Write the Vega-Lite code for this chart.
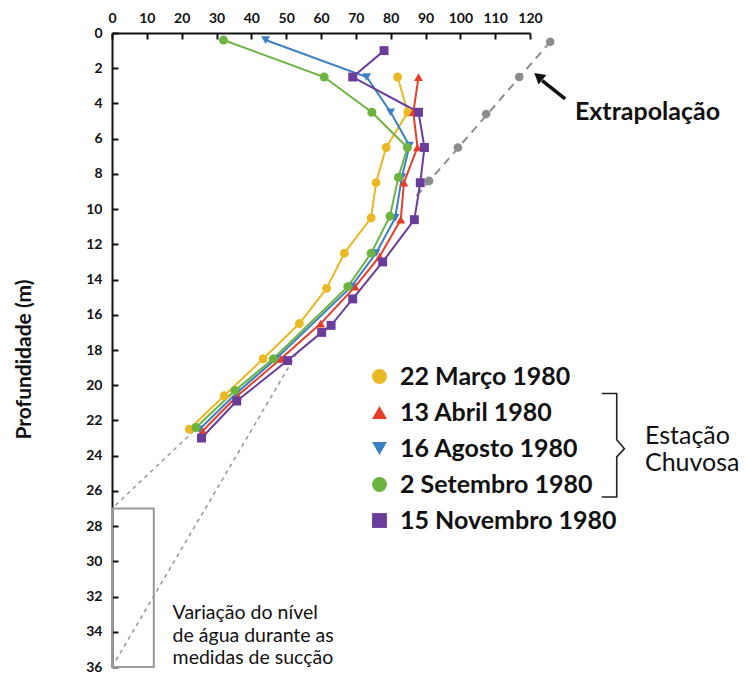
{
  "$schema": "https://vega.github.io/schema/vega-lite/v6.json",
  "width": 418,
  "height": 634,
  "autosize": {"type": "none"},
  "padding": {"left": 112, "top": 33, "right": 215, "bottom": 6},
  "background": "white",
  "config": {
    "view": {"stroke": null},
    "font": "Lato",
    "axis": {
      "grid": false,
      "domainColor": "#111111",
      "domainWidth": 2,
      "tickColor": "#111111",
      "tickWidth": 2,
      "tickSize": -6,
      "labelFont": "Lato",
      "labelFontWeight": "bold",
      "labelFontSize": 14,
      "labelColor": "#111111",
      "labelFlush": false,
      "labelOverlap": false
    },
    "legend": {
      "labelLimit": 0
    }
  },
  "resolve": {"legend": {"color": "independent", "shape": "independent"}},
  "datasets": {
    "profiles": [
      {"serie": "22 Março 1980", "x": 82.0, "d": 2.5},
      {"serie": "22 Março 1980", "x": 84.9, "d": 4.5},
      {"serie": "22 Março 1980", "x": 78.7, "d": 6.5},
      {"serie": "22 Março 1980", "x": 75.8, "d": 8.5},
      {"serie": "22 Março 1980", "x": 74.4, "d": 10.5},
      {"serie": "22 Março 1980", "x": 66.7, "d": 12.5},
      {"serie": "22 Março 1980", "x": 61.6, "d": 14.5},
      {"serie": "22 Março 1980", "x": 53.8, "d": 16.5},
      {"serie": "22 Março 1980", "x": 43.4, "d": 18.5},
      {"serie": "22 Março 1980", "x": 32.2, "d": 20.6},
      {"serie": "22 Março 1980", "x": 22.2, "d": 22.5},
      {"serie": "13 Abril 1980", "x": 88.0, "d": 2.5},
      {"serie": "13 Abril 1980", "x": 86.5, "d": 4.5},
      {"serie": "13 Abril 1980", "x": 87.7, "d": 6.5},
      {"serie": "13 Abril 1980", "x": 83.8, "d": 8.5},
      {"serie": "13 Abril 1980", "x": 82.9, "d": 10.6},
      {"serie": "13 Abril 1980", "x": 76.8, "d": 12.7},
      {"serie": "13 Abril 1980", "x": 69.8, "d": 14.4},
      {"serie": "13 Abril 1980", "x": 59.9, "d": 16.5},
      {"serie": "13 Abril 1980", "x": 48.5, "d": 18.5},
      {"serie": "13 Abril 1980", "x": 36.0, "d": 20.6},
      {"serie": "13 Abril 1980", "x": 26.0, "d": 22.6},
      {"serie": "16 Agosto 1980", "x": 44.1, "d": 0.4},
      {"serie": "16 Agosto 1980", "x": 73.1, "d": 2.5},
      {"serie": "16 Agosto 1980", "x": 80.0, "d": 4.5},
      {"serie": "16 Agosto 1980", "x": 85.4, "d": 6.4},
      {"serie": "16 Agosto 1980", "x": 83.2, "d": 8.2},
      {"serie": "16 Agosto 1980", "x": 81.3, "d": 10.5},
      {"serie": "16 Agosto 1980", "x": 75.8, "d": 12.5},
      {"serie": "16 Agosto 1980", "x": 68.7, "d": 14.4},
      {"serie": "16 Agosto 1980", "x": 47.1, "d": 18.5},
      {"serie": "16 Agosto 1980", "x": 36.0, "d": 20.4},
      {"serie": "16 Agosto 1980", "x": 25.1, "d": 22.5},
      {"serie": "2 Setembro 1980", "x": 32.0, "d": 0.4},
      {"serie": "2 Setembro 1980", "x": 60.9, "d": 2.5},
      {"serie": "2 Setembro 1980", "x": 74.6, "d": 4.5},
      {"serie": "2 Setembro 1980", "x": 84.8, "d": 6.5},
      {"serie": "2 Setembro 1980", "x": 82.2, "d": 8.2},
      {"serie": "2 Setembro 1980", "x": 79.8, "d": 10.4},
      {"serie": "2 Setembro 1980", "x": 74.4, "d": 12.5},
      {"serie": "2 Setembro 1980", "x": 67.7, "d": 14.4},
      {"serie": "2 Setembro 1980", "x": 46.3, "d": 18.5},
      {"serie": "2 Setembro 1980", "x": 35.3, "d": 20.3},
      {"serie": "2 Setembro 1980", "x": 24.1, "d": 22.4},
      {"serie": "15 Novembro 1980", "x": 78.1, "d": 1.0},
      {"serie": "15 Novembro 1980", "x": 69.1, "d": 2.5},
      {"serie": "15 Novembro 1980", "x": 88.0, "d": 4.5},
      {"serie": "15 Novembro 1980", "x": 89.7, "d": 6.5},
      {"serie": "15 Novembro 1980", "x": 88.5, "d": 8.5},
      {"serie": "15 Novembro 1980", "x": 86.8, "d": 10.6},
      {"serie": "15 Novembro 1980", "x": 77.7, "d": 13.0},
      {"serie": "15 Novembro 1980", "x": 69.1, "d": 15.1},
      {"serie": "15 Novembro 1980", "x": 62.9, "d": 16.6},
      {"serie": "15 Novembro 1980", "x": 60.2, "d": 17.0},
      {"serie": "15 Novembro 1980", "x": 50.4, "d": 18.6},
      {"serie": "15 Novembro 1980", "x": 35.8, "d": 20.9},
      {"serie": "15 Novembro 1980", "x": 25.7, "d": 23.0}
    ],
    "extrapPoints": [
      {"x": 125.8, "d": 0.5},
      {"x": 116.9, "d": 2.5},
      {"x": 107.4, "d": 4.6},
      {"x": 99.3, "d": 6.5},
      {"x": 91.0, "d": 8.4}
    ],
    "extrapLine": [
      {"x": 125.8, "d": 0.5},
      {"x": 86.3, "d": 9.5}
    ],
    "guides": [
      {"g": "a", "x": 23.5, "d": 22.6},
      {"g": "a", "x": 0.0, "d": 27.0},
      {"g": "b", "x": 53.0, "d": 18.2},
      {"g": "b", "x": 0.0, "d": 36.0}
    ],
    "box": [
      {"x": 0, "x2": 12, "d": 27, "d2": 36}
    ],
    "bracket": [
      {"o": 1, "x": 140.6, "d": 20.47},
      {"o": 2, "x": 144.9, "d": 20.47},
      {"o": 3, "x": 144.9, "d": 23.1},
      {"o": 4, "x": 147.1, "d": 23.6},
      {"o": 5, "x": 144.9, "d": 24.07},
      {"o": 6, "x": 144.9, "d": 26.35},
      {"o": 7, "x": 140.6, "d": 26.35}
    ],
    "arrowShaft": [
      {"o": 1, "x": 130.1, "d": 3.74},
      {"o": 2, "x": 123.5, "d": 2.7}
    ],
    "arrowHead": [
      {"x": 122.4, "d": 2.46}
    ],
    "titleBold": [
      {"x": 132.9, "d": 4.47, "label": "Extrapolação"}
    ],
    "season": [
      {"x": 153.0, "d": 22.88, "label": "Estação"},
      {"x": 153.0, "d": 24.43, "label": "Chuvosa"}
    ],
    "note": [
      {"x": 17.4, "d": 32.95, "label": "Variação do nível"},
      {"x": 17.4, "d": 34.24, "label": "de água durante as"},
      {"x": 17.4, "d": 35.5, "label": "medidas de sucção"}
    ]
  },
  "encoding": {
    "x": {
      "field": "x",
      "type": "quantitative",
      "scale": {"domain": [0, 120], "nice": false, "zero": false},
      "axis": {
        "orient": "top",
        "title": null,
        "values": [0, 10, 20, 30, 40, 50, 60, 70, 80, 90, 100, 110, 120],
        "labelPadding": 14
      }
    },
    "y": {
      "field": "d",
      "type": "quantitative",
      "scale": {"domain": [0, 36], "reverse": true, "nice": false, "zero": false},
      "axis": {
        "orient": "left",
        "values": [0, 2, 4, 6, 8, 10, 12, 14, 16, 18, 20, 22, 24, 26, 28, 30, 32, 34, 36],
        "labelPadding": 16,
        "title": "Profundidade (m)",
        "titleFont": "Lato",
        "titleFontSize": 21,
        "titleFontWeight": "bold",
        "titleColor": "#111111",
        "titleX": -78,
        "titleY": 326
      }
    }
  },
  "layer": [
    {
      "data": {"name": "box"},
      "mark": {"type": "rect", "fill": null, "stroke": "#9a9a9a", "strokeWidth": 2},
      "encoding": {
        "x2": {"field": "x2"},
        "y2": {"field": "d2"}
      }
    },
    {
      "data": {"name": "guides"},
      "mark": {"type": "line", "color": "#9a9a9a", "strokeWidth": 1.6, "strokeDash": [4, 4]},
      "encoding": {
        "detail": {"field": "g", "type": "nominal"},
        "order": {"field": "d", "type": "quantitative"}
      }
    },
    {
      "data": {"name": "extrapLine"},
      "mark": {"type": "line", "color": "#8c8c8c", "strokeWidth": 2, "strokeDash": [8, 6]},
      "encoding": {
        "order": {"field": "d", "type": "quantitative"}
      }
    },
    {
      "data": {"name": "extrapPoints"},
      "mark": {"type": "point", "shape": "circle", "filled": true, "color": "#8c8c8c", "opacity": 1, "size": 75}
    },
    {
      "data": {"name": "profiles"},
      "mark": {"type": "line", "strokeWidth": 2},
      "encoding": {
        "color": {
          "field": "serie",
          "type": "nominal",
          "scale": {
            "domain": ["22 Março 1980", "13 Abril 1980", "16 Agosto 1980", "2 Setembro 1980", "15 Novembro 1980"],
            "range": ["#e9b824", "#e53d2a", "#3b7fc4", "#6cb33f", "#6a3d9a"]
          },
          "legend": null
        },
        "order": {"field": "d", "type": "quantitative"}
      }
    },
    {
      "data": {"name": "profiles"},
      "mark": {"type": "point", "filled": true, "opacity": 1, "size": 80},
      "encoding": {
        "color": {
          "field": "serie",
          "type": "nominal",
          "scale": {
            "domain": ["22 Março 1980", "13 Abril 1980", "16 Agosto 1980", "2 Setembro 1980", "15 Novembro 1980"],
            "range": ["#e9b824", "#e53d2a", "#3b7fc4", "#6cb33f", "#6a3d9a"]
          },
          "legend": {
            "orient": "none",
            "legendX": 255,
            "legendY": 331,
            "title": null,
            "padding": 0,
            "labelFont": "Lato",
            "labelFontWeight": "bold",
            "labelFontSize": 25,
            "labelColor": "#111111",
            "labelOffset": 8,
            "labelLimit": 0,
            "symbolSize": 220,
            "symbolStrokeWidth": 0,
            "rowPadding": 10
          }
        },
        "shape": {
          "field": "serie",
          "type": "nominal",
          "scale": {
            "domain": ["22 Março 1980", "13 Abril 1980", "16 Agosto 1980", "2 Setembro 1980", "15 Novembro 1980"],
            "range": ["circle", "triangle-up", "triangle-down", "circle", "square"]
          },
          "legend": {
            "orient": "none",
            "legendX": 255,
            "legendY": 331,
            "title": null,
            "padding": 0,
            "labelFont": "Lato",
            "labelFontWeight": "bold",
            "labelFontSize": 25,
            "labelColor": "#111111",
            "labelOffset": 8,
            "labelLimit": 0,
            "symbolSize": 220,
            "symbolStrokeWidth": 0,
            "rowPadding": 10
          }
        }
      }
    },
    {
      "data": {"name": "bracket"},
      "mark": {"type": "line", "color": "#222222", "strokeWidth": 1.6},
      "encoding": {
        "order": {"field": "o", "type": "quantitative"}
      }
    },
    {
      "data": {"name": "arrowShaft"},
      "mark": {"type": "line", "color": "#111111", "strokeWidth": 3.5},
      "encoding": {
        "order": {"field": "o", "type": "quantitative"}
      }
    },
    {
      "data": {"name": "arrowHead"},
      "mark": {"type": "point", "shape": "triangle-up", "filled": true, "color": "#111111", "opacity": 1, "size": 150, "angle": 310}
    },
    {
      "data": {"name": "titleBold"},
      "mark": {"type": "text", "font": "Lato", "fontWeight": "bold", "fontSize": 25, "color": "#111111", "align": "left", "baseline": "middle"},
      "encoding": {"text": {"field": "label"}}
    },
    {
      "data": {"name": "season"},
      "mark": {"type": "text", "font": "Lato", "fontSize": 25, "color": "#111111", "align": "left", "baseline": "middle"},
      "encoding": {"text": {"field": "label"}}
    },
    {
      "data": {"name": "note"},
      "mark": {"type": "text", "font": "Lato", "fontSize": 19.5, "color": "#111111", "align": "left", "baseline": "middle"},
      "encoding": {"text": {"field": "label"}}
    }
  ]
}
